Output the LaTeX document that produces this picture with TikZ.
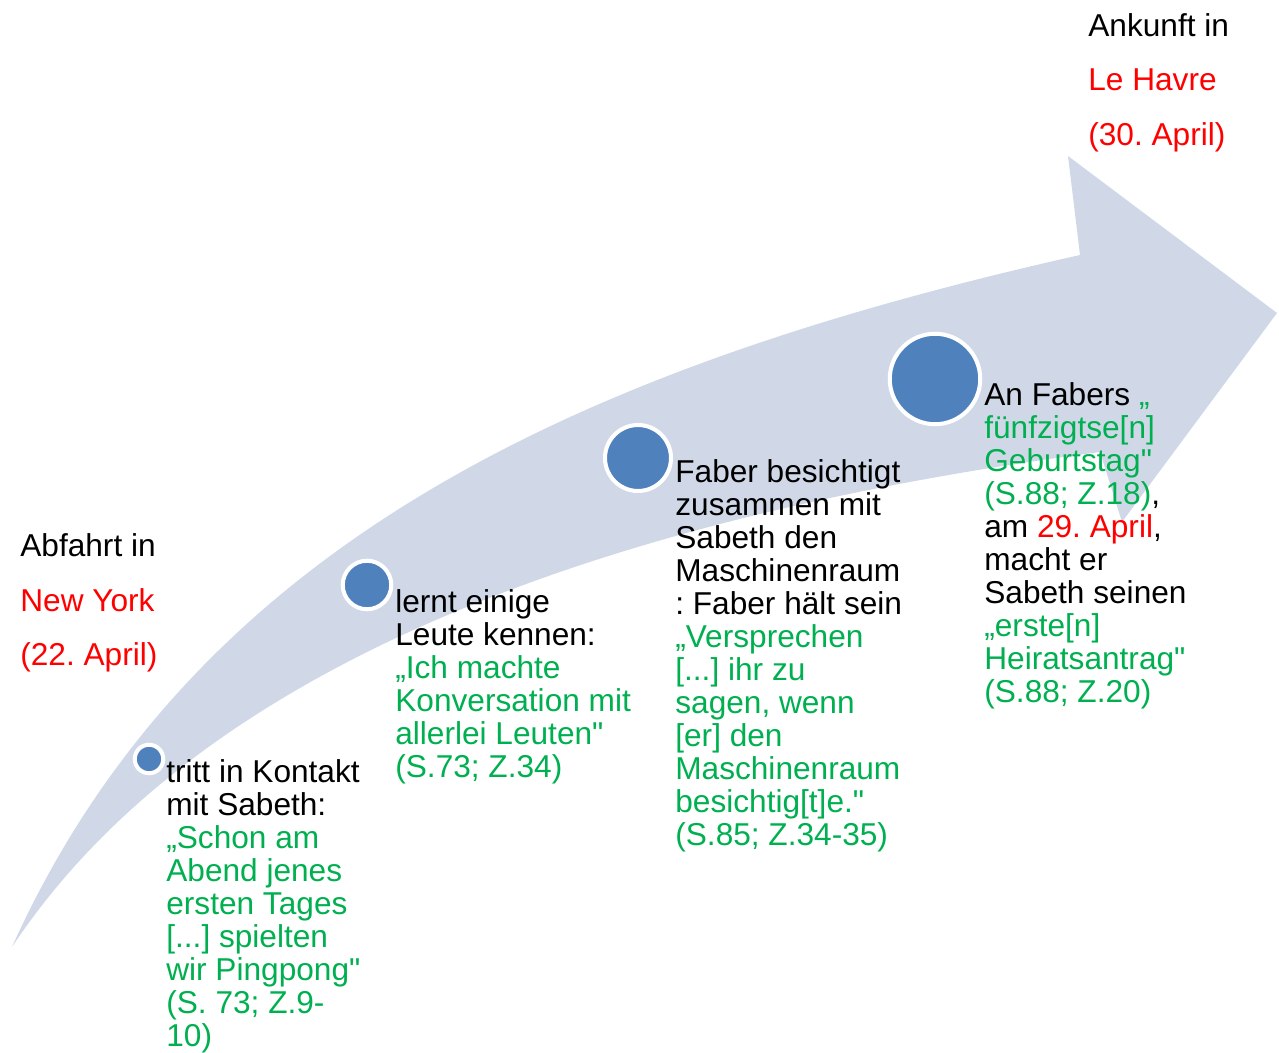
\documentclass[tikz,border=0pt]{standalone}
\usepackage{fontspec}
\setmainfont{Liberation Sans}[Ligatures=TeXOff]
\usetikzlibrary{positioning}
\frenchspacing

\definecolor{bandgray}{RGB}{208,216,232}
\definecolor{dotblue}{RGB}{79,129,189}
\definecolor{quotegreen}{RGB}{0,176,80}
\newcommand{\qt}[1]{\textcolor{quotegreen}{#1}}
\newcommand{\dt}[1]{\textcolor{red}{#1}}

\begin{document}
\begin{tikzpicture}[x=0.02cm,y=-0.02cm,
  dot/.style={circle,fill=dotblue,draw=white,line width=2.3pt,inner sep=0pt},
  stepinfo/.style={anchor=base west,align=left,inner sep=0pt,font=\fontsize{18}{18.8}\selectfont},
  place/.style={anchor=base west,align=left,inner sep=0pt,font=\fontsize{18}{31.3}\selectfont}]

\useasboundingbox (0,0) rectangle (1279,1053);

% the curved arrow
\fill[bandgray] (12,947) .. controls (196.5,537.5) and (592.5,364.5) .. (1080,255)
  -- (1068,156) -- (1277,313) -- (1122,522) -- (1100,452)
  .. controls (624.8,514.4) and (204.5,656.5) .. (12,947) -- cycle;

% stations
\node[dot,minimum size=0.57cm] (d1) at (149,759) {};
\node[dot,minimum size=0.97cm] (d2) at (367,585) {};
\node[dot,minimum size=1.32cm] (d3) at (638,458) {};
\node[dot,minimum size=1.81cm] (d4) at (935,379) {};

% start and end (anchored at the last baseline)
\node[place] (start) at (20,666) {Abfahrt in\\\dt{New York}\\\dt{(22. April)}};
\node[place] (goal) at (1088,146) {Ankunft in\\\dt{Le Havre}\\\dt{(30. April)}};

% texts
\node[stepinfo] (t1) at (166,1047) {tritt in Kontakt\\mit Sabeth:\\\qt{„Schon am}\\\qt{Abend jenes}\\\qt{ersten Tages}\\\qt{[...] spielten}\\\qt{wir Pingpong"}\\\qt{(S. 73; Z.9-}\\\qt{10)}};
\node[stepinfo] (t2) at (395,778) {lernt einige\\Leute kennen:\\\qt{„Ich machte}\\\qt{Konversation mit}\\\qt{allerlei Leuten"}\\\qt{(S.73; Z.34)}};
\node[stepinfo] (t3) at (675,846) {Faber besichtigt\\zusammen mit\\Sabeth den\\Maschinenraum\\: Faber hält sein\\\qt{„Versprechen}\\\qt{[...] ihr zu}\\\qt{sagen, wenn}\\\qt{[er] den}\\\qt{Maschinenraum}\\\qt{besichtig[t]e."}\\\qt{(S.85; Z.34-35)}};
\node[stepinfo] (t4) at (984,703) {An Fabers \qt{„}\\\qt{fünfzigtse[n]}\\\qt{Geburtstag"}\\\qt{(S.88; Z.18)},\\am \dt{29. April},\\macht er\\Sabeth seinen\\\qt{„erste[n]}\\\qt{Heiratsantrag"}\\\qt{(S.88; Z.20)}};

\end{tikzpicture}
\end{document}
